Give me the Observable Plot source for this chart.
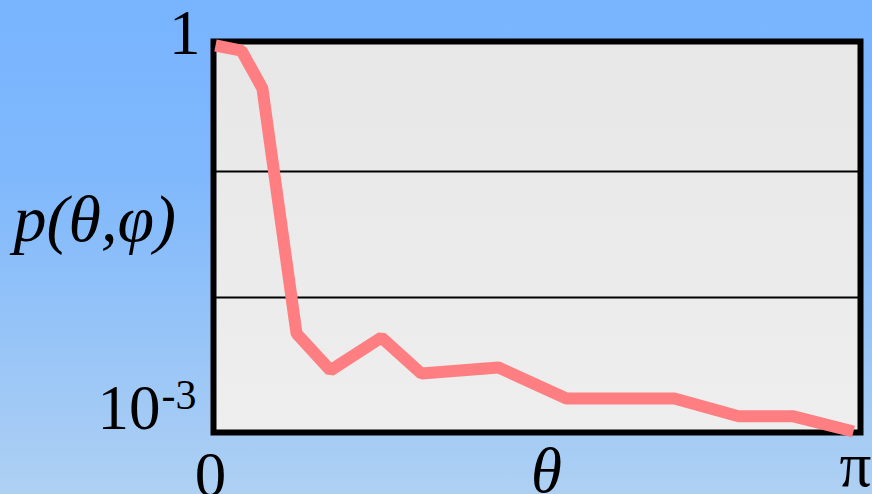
<!DOCTYPE html>
<html>
<head>
<meta charset="utf-8">
<script src="https://cdn.jsdelivr.net/npm/d3@7"></script>
<script src="https://cdn.jsdelivr.net/npm/@observablehq/plot@0.6"></script>
<style>
  html, body { margin: 0; padding: 0; }
  body {
    width: 872px; height: 494px; overflow: hidden;
    background: linear-gradient(to bottom, #78b4ff 0%, #7fb8fc 35%, #aed0f3 100%);
  }
  #chart svg { display: block; }
</style>
</head>
<body>
<div id="chart"></div>
<script>
// Scattering probability p(θ,φ) against polar angle θ (radians), log scale
const theta = [0, 0.128, 0.231, 0.399, 0.566, 0.817, 1.014, 1.394, 1.728, 2.260, 2.575, 2.846, Math.PI];
const prob  = [1, 0.91, 0.456, 0.00518, 0.00264, 0.00482, 0.00249, 0.00278, 0.00158, 0.00158, 0.00114, 0.00114, 0.000864];

// Horizontal reference lines (decades)
const gridValues = [0.1, 0.01];

// Axis annotations
const yTop = [1];          const yTopText = ["1"];
const yBottom = [0.001];   const yBottomText = ["10"]; const yBottomExp = ["-3"];
const xStart = [0];        const xStartText = ["0"];
const xMid = [Math.PI / 2]; const xMidText = ["θ"];
const xEnd = [Math.PI];    const xEndText = ["π"];
const yLabel = ["p(θ,φ)"];

const data = theta.map((t, i) => ({theta: t, p: prob[i]}));

const serif = "'Liberation Serif', 'Times New Roman', serif";

// Panel gradient definition
const defs = () => {
  const g = d3.create("svg:defs");
  const lg = g.append("linearGradient").attr("id", "panelFill")
    .attr("x1", 0).attr("y1", 0).attr("x2", 0).attr("y2", 1);
  lg.append("stop").attr("offset", "0%").attr("stop-color", "#e7e7e7");
  lg.append("stop").attr("offset", "100%").attr("stop-color", "#eeeeee");
  return g.node();
};

const chart = Plot.plot({
  width: 872,
  height: 494,
  marginLeft: 213,
  marginRight: 12,
  marginTop: 41,
  marginBottom: 62,
  style: {background: "transparent", overflow: "visible"},
  x: {domain: [0, Math.PI], insetLeft: 2, insetRight: 7, axis: null},
  y: {type: "log", domain: [0.001, 1], insetTop: 4, insetBottom: 9, axis: null},
  marks: [
    defs,
    Plot.frame({fill: "url(#panelFill)", stroke: "none"}),
    Plot.ruleY(gridValues, {stroke: "#000", strokeWidth: 2}),
    Plot.frame({stroke: "#000", strokeWidth: 6, fill: "none"}),
    Plot.line(data, {
      x: "theta", y: "p",
      stroke: "#ff7e82", strokeWidth: 12,
      strokeLinejoin: "miter", strokeLinecap: "butt"
    }),
    // y annotations
    Plot.text(yTop, {y: d => d, text: (d, i) => yTopText[i], frameAnchor: "left",
      textAnchor: "end", lineAnchor: "bottom", dx: -13, dy: 8,
      fontFamily: serif, fontSize: 63, fill: "#000"}),
    Plot.text(yBottom, {y: d => d, text: (d, i) => yBottomText[i], frameAnchor: "left",
      textAnchor: "end", lineAnchor: "bottom", dx: -53, dy: 5,
      fontFamily: serif, fontSize: 63, fill: "#000"}),
    Plot.text(yBottom, {y: d => d, text: (d, i) => yBottomExp[i], frameAnchor: "left",
      textAnchor: "start", lineAnchor: "bottom", dx: -52, dy: -15,
      fontFamily: serif, fontSize: 42, fill: "#000"}),
    Plot.text(yLabel, {text: d => d, frameAnchor: "left",
      textAnchor: "start", lineAnchor: "bottom", dx: -200, dy: 4,
      fontFamily: serif, fontStyle: "italic", fontSize: 66, fill: "#000"}),
    // x annotations
    Plot.text(xStart, {x: d => d, text: (d, i) => xStartText[i], frameAnchor: "bottom",
      textAnchor: "middle", lineAnchor: "bottom", dx: -5, dy: 63,
      fontFamily: serif, fontSize: 63, fill: "#000"}),
    Plot.text(xMid, {x: d => d, text: (d, i) => xMidText[i], frameAnchor: "bottom",
      textAnchor: "middle", lineAnchor: "bottom", dx: 12, dy: 59,
      fontFamily: serif, fontStyle: "italic", fontSize: 63, fill: "#000"}),
    Plot.text(xEnd, {x: d => d, text: (d, i) => xEndText[i], frameAnchor: "bottom",
      textAnchor: "middle", lineAnchor: "bottom", dx: 2, dy: 53,
      fontFamily: serif, fontSize: 63, fill: "#000"})
  ]
});

document.getElementById("chart").appendChild(chart);
</script>
</body>
</html>
